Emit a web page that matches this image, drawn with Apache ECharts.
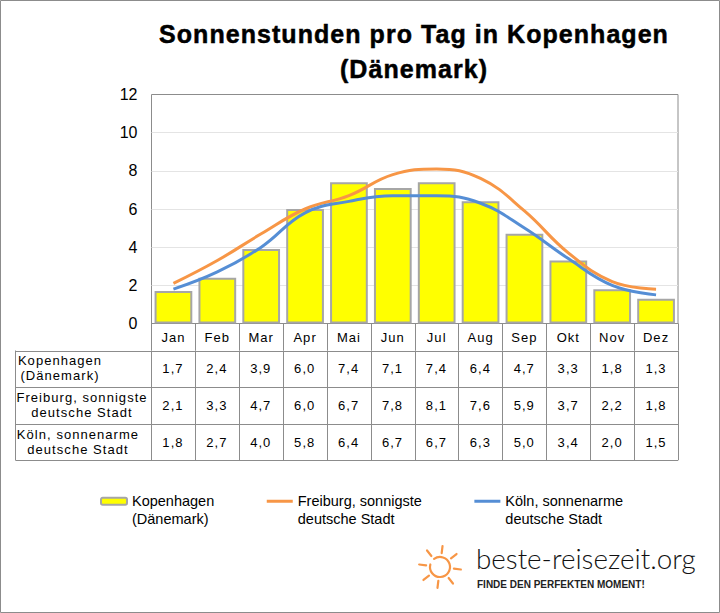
<!DOCTYPE html>
<html>
<head>
<meta charset="utf-8">
<script src="https://cdn.jsdelivr.net/npm/echarts@6/dist/echarts.min.js"></script>
<style>
  html, body { margin: 0; padding: 0; background: #fff; }
  #chart { width: 720px; height: 613px; }
  /* Excel-style tracking, picked by font size since ECharts has no letterSpacing */
  #chart text[style*="25px"] { letter-spacing: 1.05px; }
  #chart text[style*="13px"] { letter-spacing: 1.05px; }
</style>
</head>
<body>
<div id="chart"></div>
<script>
const months = ['Jan', 'Feb', 'Mar', 'Apr', 'Mai', 'Jun', 'Jul', 'Aug', 'Sep', 'Okt', 'Nov', 'Dez'];
const kopenhagen = [1.7, 2.4, 3.9, 6.0, 7.4, 7.1, 7.4, 6.4, 4.7, 3.3, 1.8, 1.3];
const freiburg = [2.1, 3.3, 4.7, 6.0, 6.7, 7.8, 8.1, 7.6, 5.9, 3.7, 2.2, 1.8];
const koeln = [1.8, 2.7, 4.0, 5.8, 6.4, 6.7, 6.7, 6.3, 5.0, 3.4, 2.0, 1.5];
const names = ['Kopenhagen\n(Dänemark)', 'Freiburg, sonnigste\ndeutsche Stadt', 'Köln, sonnenarme\ndeutsche Stadt'];

const FONT = "'Liberation Sans', Arial, sans-serif";
const GREY = '#8c8c8c';
const ORANGE = '#f79646';
const plot = { left: 151.5, right: 678, top: 94.5, bottom: 323.5 };
const table = { left: 15.5, col: 151, top: 350.5, rowH: 36.6, labelX: [60, 82, 78] };

// value table under the plot
function tableGraphic() {
  const out = [];
  const rows = [kopenhagen, freiburg, koeln];
  const colW = (plot.right - table.col) / months.length;
  const line = (x1, y1, x2, y2) => ({
    type: 'line', silent: true,
    shape: { x1, y1, x2, y2 },
    style: { stroke: GREY, lineWidth: 1 }
  });
  const bottom = table.top + table.rowH * rows.length;
  for (let r = 0; r <= rows.length; r++) {
    const y = Math.round(table.top + table.rowH * r) + 0.5;
    out.push(line(table.left, y, plot.right, y));
  }
  out.push(line(table.left, table.top, table.left, bottom));
  for (let c = 0; c <= months.length; c++) {
    const x = Math.round(table.col + colW * c) + 0.5;
    out.push(line(x, table.top, x, bottom));
  }
  rows.forEach((vals, r) => {
    const cy = table.top + table.rowH * (r + 0.5);
    out.push({
      type: 'text', silent: true, x: table.labelX[r], y: cy - 0.5,
      style: { text: names[r], font: '13px ' + FONT, fill: '#000', align: 'center', verticalAlign: 'middle', lineHeight: 15 }
    });
    vals.forEach((v, c) => {
      out.push({
        type: 'text', silent: true, x: table.col + colW * (c + 0.5), y: cy,
        style: { text: v.toFixed(1).replace('.', ','), font: '13px ' + FONT, fill: '#000', align: 'center', verticalAlign: 'middle' }
      });
    });
  });
  return out;
}

// beste-reisezeit.org logo, bottom right
function logoGraphic() {
  const out = [];
  const cx = 440, cy = 567;
  for (let i = 0; i < 8; i++) {
    const a = i * Math.PI / 4 + 0.12;
    out.push({
      type: 'line', silent: true,
      shape: { x1: cx + Math.cos(a) * 14, y1: cy + Math.sin(a) * 14, x2: cx + Math.cos(a) * 21, y2: cy + Math.sin(a) * 21 },
      style: { stroke: ORANGE, lineWidth: 2.2, lineCap: 'round' }
    });
  }
  out.push({
    type: 'arc', silent: true,
    shape: { cx, cy, r: 10, startAngle: -2.2, endAngle: 3.4 },
    style: { stroke: ORANGE, fill: null, lineWidth: 2.2, lineCap: 'round' }
  });
  out.push({
    type: 'text', silent: true, x: 476, y: 558,
    style: { text: 'beste-reisezeit.org', font: '300 27.8px Lato, ' + FONT, fill: '#111', verticalAlign: 'middle' }
  });
  out.push({
    type: 'text', silent: true, x: 477, y: 584,
    style: { text: 'FINDE DEN PERFEKTEN MOMENT!', font: 'bold 10px ' + FONT, fill: '#222', verticalAlign: 'middle' }
  });
  return out;
}

const chart = echarts.init(document.getElementById('chart'), null, { renderer: 'svg' });
chart.setOption({
  animation: false,
  backgroundColor: '#fff',
  textStyle: { fontFamily: FONT },
  title: {
    text: 'Sonnenstunden pro Tag in Kopenhagen\n(Dänemark)',
    left: 409, top: 11, textAlign: 'center',
    textStyle: {
      fontSize: 25, fontWeight: 'bold', color: '#000', lineHeight: 35, fontFamily: FONT,
      textBorderColor: '#000', textBorderWidth: 0.5
    }
  },
  legend: {
    left: 100, top: 475,
    padding: 0,
    itemWidth: 26, itemHeight: 7, itemGap: 51,
    textStyle: { fontSize: 14.5, color: '#000', lineHeight: 17.5, fontFamily: FONT },
    lineStyle: { width: 3 },
    // blank first line keeps the key level with the first text line
    formatter: n => '\n' + n,
    data: [
      { name: names[0] },
      { name: names[1], itemStyle: { opacity: 0 } },
      { name: names[2], itemStyle: { opacity: 0 } }
    ]
  },
  grid: {
    left: plot.left, top: plot.top,
    width: plot.right - plot.left, height: plot.bottom - plot.top,
    show: true, borderColor: GREY, borderWidth: 1, backgroundColor: 'transparent'
  },
  xAxis: {
    type: 'category', data: months, boundaryGap: true,
    axisLine: { show: true, lineStyle: { color: GREY } },
    axisTick: { show: true, length: 27, lineStyle: { color: GREY } },
    axisLabel: { color: '#000', fontSize: 13, margin: 7, interval: 0, fontFamily: FONT }
  },
  yAxis: {
    type: 'value', min: 0, max: 12, interval: 2,
    axisLine: { show: false }, axisTick: { show: false },
    axisLabel: { color: '#000', fontSize: 16, margin: 14, fontFamily: FONT },
    splitLine: { showMinLine: false, showMaxLine: false, lineStyle: { color: '#e4e4e4' } }
  },
  series: [
    {
      name: names[0], type: 'bar', data: kopenhagen, barWidth: '86%',
      itemStyle: { color: '#ffff00', borderColor: '#a6a6a6', borderWidth: 2 }
    },
    {
      name: names[1], type: 'line', data: freiburg, smooth: 0.42, showSymbol: false, symbol: 'none',
      lineStyle: { color: ORANGE, width: 3 }, itemStyle: { color: ORANGE }
    },
    {
      name: names[2], type: 'line', data: koeln, smooth: 0.42, showSymbol: false, symbol: 'none',
      lineStyle: { color: '#558ed5', width: 3 }, itemStyle: { color: '#558ed5' }
    }
  ],
  graphic: [
    {
      type: 'rect', silent: true, z: -1,
      shape: { x: 0.5, y: 0.5, width: 719, height: 612 },
      style: { fill: null, stroke: GREY, lineWidth: 1 }
    },
    ...tableGraphic(),
    ...logoGraphic()
  ]
});
</script>
</body>
</html>
